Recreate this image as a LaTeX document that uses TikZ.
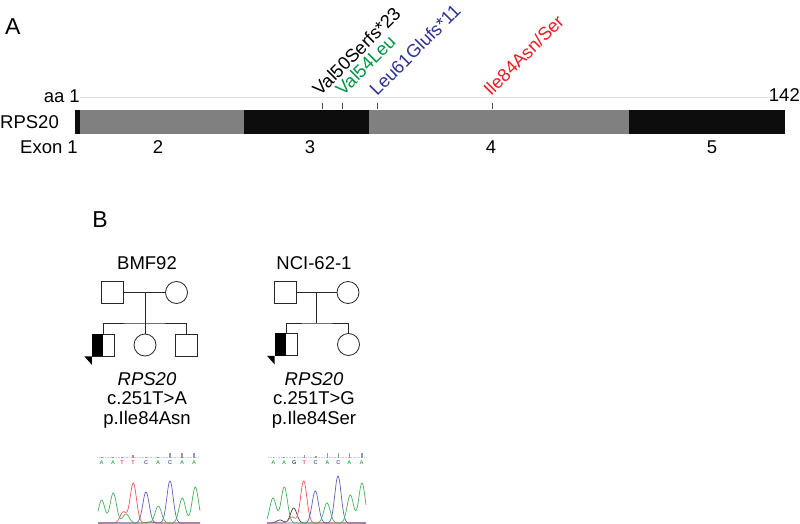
\documentclass[tikz,border=0pt]{standalone}
\usepackage{fontspec}
\setmainfont{Liberation Sans}
\usetikzlibrary{calc}

\definecolor{exdark}{HTML}{0D0D0D}
\definecolor{exgray}{HTML}{808080}
\definecolor{mutgreen}{HTML}{009444}
\definecolor{mutblue}{HTML}{2E3192}
\definecolor{mutred}{HTML}{ED1C24}
\definecolor{trgreen}{RGB}{70,175,90}
\definecolor{trred}{RGB}{240,85,95}
\definecolor{trblue}{RGB}{95,95,185}
\definecolor{qualline}{RGB}{165,220,228}

% one peak of a trace
\newcommand{\gpk}[2]{#2*exp(-min(((\x-#1)/4.5)^2,9))}

\begin{document}
\begin{tikzpicture}[x=1pt, y=-1pt,
    lbl/.style={inner sep=0pt, font=\fontsize{18.5}{22}\selectfont},
    panel/.style={inner sep=0pt, font=\fontsize{23}{27}\selectfont},
    mut/.style={inner sep=0pt, anchor=base west, rotate=45,
                font=\fontsize{18.3}{22}\selectfont},
    exon/.style={rectangle, inner sep=0pt, outer sep=0pt, anchor=north west,
                 minimum height=24pt},
    male/.style={rectangle, draw=black!85, line width=0.8pt,
                 minimum size=22pt, inner sep=0pt},
    female/.style={circle, draw=black!85, line width=0.8pt,
                   minimum size=22pt, inner sep=0pt},
    kin/.style={draw=black!85, line width=0.8pt},
    basecall/.style={inner sep=0pt, font=\fontsize{5.5}{6}\selectfont\bfseries},
    trace/.style={line width=0.7pt, smooth, samples=140}
]
    \useasboundingbox (0,0) rectangle (800,524);

    % ---- A: protein / exons ----
    \node[panel, anchor=west] (pA) at (5,27) {A};

    \coordinate (aa1) at (80,97);
    \coordinate (aa142) at (785,97);
    \draw[black!12, line width=0.8pt] (aa1) -- (aa142);
    \node[lbl, anchor=east] (aalbl) at (80,96) {aa 1};
    \node[lbl, anchor=east] (aaend) at (800,95) {142};

    \node[exon, fill=exdark, minimum width=5pt]   (ex1) at (75,110) {};
    \node[exon, fill=exgray, minimum width=164pt] (ex2) at (ex1.north east) {};
    \node[exon, fill=exdark, minimum width=125pt] (ex3) at (ex2.north east) {};
    \node[exon, fill=exgray, minimum width=260pt] (ex4) at (ex3.north east) {};
    \node[exon, fill=exdark, minimum width=156pt] (ex5) at (ex4.north east) {};

    \node[lbl, anchor=west] (gene) at (0,122) {RPS20};
    \node[lbl, anchor=east] (exlbl) at (78,147) {Exon 1};
    \node[lbl] (n2) at (158,147) {2};
    \node[lbl] (n3) at (310,147) {3};
    \node[lbl] (n4) at (491,147) {4};
    \node[lbl] (n5) at (712,147) {5};

    % mutation ticks
    \foreach \t in {322,342,377,492}
        \draw[black!70, line width=0.7pt] (\t,103) -- (\t,109);

    \node[mut] (m50) at (320,97) {Val50Serfs*23};
    \node[mut, text=mutgreen] (m54) at (343,97) {Val54Leu};
    \node[mut, text=mutblue] (m61) at (377,97) {Leu61Glufs*11};
    \node[mut, text=mutred] (m84) at (491,97) {Ile84Asn/Ser};

    % ---- B: pedigrees ----
    \node[panel] (pB) at (100,220) {B};
    \node[lbl] (fam1) at (147,263) {BMF92};
    \node[lbl] (fam2) at (314,263) {NCI-62-1};

    % BMF92
    \node[male]   (f1)  at (112,292.5) {};
    \node[female] (m1)  at (176.5,292.5) {};
    \node[male]   (c11) at (103.3,345) {};
    \node[female] (c12) at (145,345) {};
    \node[male]   (c13) at (186,345) {};
    \coordinate (u1) at (145,292.5);
    \coordinate (s1) at (145,323);
    \draw[kin] (f1) -- (m1);
    \draw[kin] (u1) -- (s1);
    \draw[kin] (c11.north) |- (s1) -| (c13.north);
    \draw[kin] (c12.north) -- (c12.north |- s1);
    \fill[black] (c11.north west) rectangle (c11.south);
    \fill[black] (c11.south west) -- ++(-7.5,0) -- ++(7.5,8.5) -- cycle;

    % NCI-62-1
    \node[male]   (f2)  at (285,292.5) {};
    \node[female] (m2)  at (348,292.5) {};
    \node[male]   (c21) at (286,344.5) {};
    \node[female] (c22) at (348.5,344.5) {};
    \coordinate (u2) at (316.5,292.5);
    \coordinate (s2) at (316.5,323);
    \draw[kin] (f2) -- (m2);
    \draw[kin] (u2) -- (s2);
    \draw[kin] (c21.north) |- (s2) -| (c22.north);
    \fill[black] (c21.north west) rectangle (c21.south);
    \fill[black] (c21.south west) -- ++(-7.5,0) -- ++(7.5,8.5) -- cycle;

    % variant text
    \node[lbl, anchor=base, font=\fontsize{18.5}{22}\selectfont\itshape] (gene1) at (147,385) {RPS20};
    \node[lbl, anchor=base] (cdna1) at (147,404.5) {c.251T>A};
    \node[lbl, anchor=base] (prot1) at (147,424) {p.Ile84Asn};
    \node[lbl, anchor=base, font=\fontsize{18.5}{22}\selectfont\itshape] (gene2) at (314,385) {RPS20};
    \node[lbl, anchor=base] (cdna2) at (314,404.5) {c.251T>G};
    \node[lbl, anchor=base] (prot2) at (314,424) {p.Ile84Ser};

    % ---- chromatograms ----
    \draw[qualline, densely dotted, line width=0.6pt] (97,457) -- (199,457);
    \draw[qualline, densely dotted, line width=0.6pt] (268,457) -- (366,457);
    \foreach \bx/\qh in {101.7/1.5,113/1.5,122/1,133/3.5,146/1.5,158/1,170/5,182/5,194/5,
                         273.3/1.5,284/1.5,294.3/1.5,304.3/3.5,315.7/2,327.3/5,338.3/5,349.3/5,361.7/5}
        \fill[black!40] (\bx-0.8,458) rectangle (\bx+0.8,458-\qh);
    \foreach \bx/\bl/\bc [count=\i] in {101.7/A/trgreen,113/A/trgreen,122/T/trred,133/T/trred,
                         146/C/trblue,158/A/trgreen,170/C/trblue,182/A/trgreen,194/A/trgreen,
                         273.3/A/trgreen,284/A/trgreen,294.3/G/black!70,304.3/T/trred,
                         315.7/C/trblue,327.3/A/trgreen,338.3/C/trblue,349.3/A/trgreen,361.7/A/trgreen}
        \node[basecall, text=\bc] (bc\i) at (\bx,462.5) {\bl};

    % BMF92 trace
    \draw[trace, black!70] plot[domain=98:200] (\x,{523-\gpk{150}{1}});
    \draw[trace, trred]   plot[domain=98:200] (\x,{523-\gpk{123.3}{11}-\gpk{133.3}{40}});
    \draw[trace, trblue]  plot[domain=98:200] (\x,{523-\gpk{146}{31}-\gpk{170}{42}});
    \draw[trace, trgreen] plot[domain=98:200]
        (\x,{523-\gpk{101.7}{23}-\gpk{113.3}{30}-\gpk{126}{9}-\gpk{158.3}{17}-\gpk{182.3}{25}-\gpk{195.3}{36}});

    % NCI-62-1 trace
    \draw[trace, black!75] plot[domain=267:366] (\x,{523-\gpk{293.7}{15}-\gpk{280}{3}});
    \draw[trace, trred]   plot[domain=267:366] (\x,{523-\gpk{303.7}{42}-\gpk{292}{6}});
    \draw[trace, trblue]  plot[domain=267:366] (\x,{523-\gpk{315.3}{32}-\gpk{338}{47}});
    \draw[trace, trgreen] plot[domain=267:366]
        (\x,{523-\gpk{273}{25}-\gpk{284.3}{36}-\gpk{327}{20}-\gpk{350.3}{28}-\gpk{362}{40}});

\end{tikzpicture}
\end{document}
